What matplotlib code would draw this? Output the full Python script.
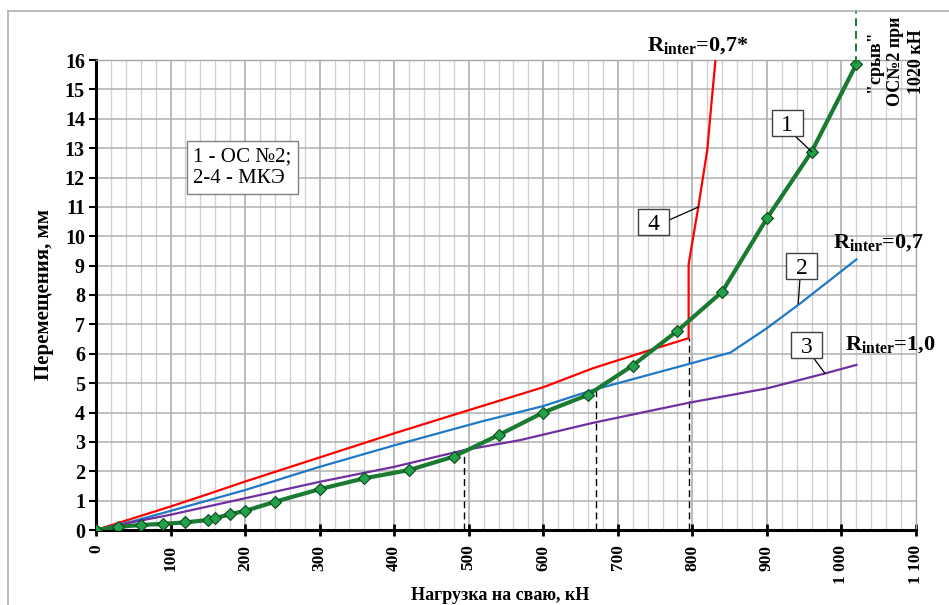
import matplotlib
matplotlib.use('Agg')
import matplotlib.pyplot as plt
import matplotlib.transforms as mtransforms
from matplotlib.patches import Rectangle
from matplotlib.lines import Line2D

# 1 - ОС №2 (опыт)
load_os = [0, 30, 60, 90, 120, 150, 160, 180, 200, 240, 300, 360, 420, 480,
           540, 600, 660, 720, 780, 840, 900, 960, 1020]
disp_os = [0, 0.11, 0.17, 0.21, 0.26, 0.34, 0.40, 0.54, 0.65, 0.96, 1.39, 1.76,
           2.04, 2.50, 3.23, 4.00, 4.60, 5.60, 6.78, 8.11, 10.61, 12.88, 15.86]
# 2 - МКЭ, Rinter=0,7
load_2 = [0, 50, 100, 200, 300, 400, 515, 600, 667, 795, 851, 900, 945, 1020]
disp_2 = [0, 0.30, 0.65, 1.36, 2.15, 2.88, 3.68, 4.22, 4.77, 5.65, 6.04, 6.87, 7.72, 9.21]
# 3 - МКЭ, Rinter=1,0
load_3 = [0, 50, 100, 200, 300, 400, 494, 569, 667, 795, 900, 978, 1020]
disp_3 = [0, 0.27, 0.52, 1.08, 1.64, 2.15, 2.72, 3.06, 3.65, 4.33, 4.82, 5.33, 5.62]
# 4 - МКЭ, Rinter=0,7*
load_4 = [0, 50, 100, 150, 200, 300, 400, 500, 600, 667, 744, 795, 795, 808, 820, 826, 831]
disp_4 = [0, 0.40, 0.80, 1.22, 1.65, 2.47, 3.29, 4.08, 4.86, 5.51, 6.13, 6.53, 9.05,
          11.0, 12.94, 14.64, 16.0]

# пунктирные вертикали
vline_x = [494, 671, 795]
vline_top = [2.72, 4.75, 6.53]

xticks = list(range(0, 1101, 100))
xtick_labels = ['0', '100', '200', '300', '400', '500', '600', '700', '800', '900', '1 000', '1 100']
yticks = list(range(0, 17))

serif = ['Liberation Serif', 'DejaVu Serif']
plt.rcParams['font.family'] = serif
plt.rcParams['mathtext.fontset'] = 'custom'
plt.rcParams['mathtext.rm'] = 'Liberation Serif'
plt.rcParams['mathtext.bf'] = 'Liberation Serif:bold'

fig = plt.figure(figsize=(9.49, 6.05), dpi=100)
ax = fig.add_axes([96 / 949, 1 - 530 / 605, (916 - 96) / 949, (530 - 60) / 605])

ax.set_xlim(0, 1100)
ax.set_ylim(0, 16)

# сетка
for xv in range(20, 1100, 20):
    if xv % 100 == 0:
        ax.axvline(xv, color='#a8a8a8', lw=1.1, zorder=0)
    else:
        ax.axvline(xv, color='#d2d2d2', lw=1.0, zorder=0)
for yv in range(1, 17):
    ax.axhline(yv, color='#b0b0b0', lw=1.1, zorder=0)

ax.plot(load_4, disp_4, color='#ff0000', lw=1.6, zorder=3)
ax.plot(load_2, disp_2, color='#1f78c8', lw=1.6, zorder=3)
ax.plot(load_3, disp_3, color='#7030a0', lw=1.6, zorder=3)
ax.plot(load_os, disp_os, color='#1a7a32', lw=3.0, marker='D', markersize=6,
        markerfacecolor='#22a04a', markeredgecolor='#0b4a1a', markeredgewidth=0.8, zorder=4)

for xv, yt in zip(vline_x, vline_top):
    ax.plot([xv, xv], [0, yt], color='black', lw=1.0, ls=(0, (5, 3)), zorder=2)

ax.plot([load_os[-1], load_os[-1]], [disp_os[-1], 17.7], color='#1a7a32', lw=1.4,
        ls=(0, (4, 2.5)), clip_on=False, zorder=4)

# оси
for s in ['left', 'bottom']:
    ax.spines[s].set_linewidth(2.2)
    ax.spines[s].set_color('black')
for s in ['top', 'right']:
    ax.spines[s].set_linewidth(1.0)
    ax.spines[s].set_color('#a8a8a8')

ax.set_xticks(xticks)
ax.set_xticklabels(xtick_labels, rotation=90, fontsize=12.5, fontweight='bold')
ax.set_yticks(yticks)
ax.set_yticklabels([str(v) for v in yticks], fontsize=14.5, fontweight='bold')
ax.tick_params(axis='x', direction='inout', length=9, width=2, pad=6)
ax.tick_params(axis='y', direction='out', length=5, width=1.5, pad=3)

ax.set_ylabel('Перемещения, мм', fontsize=15, fontweight='bold', labelpad=8)
fig.text(500 / 949, 1 - 596 / 605, 'Нагрузка на сваю, кН', fontsize=13,
         fontweight='bold', ha='center', va='center')

# подписи
ax.text(739, 16.28, r'$\mathbf{R}_{\mathbf{inter}}$=0,7*', fontsize=16, fontweight='bold',
        ha='left', va='baseline', clip_on=False)
ax.text(988, 9.57, r'$\mathbf{R}_{\mathbf{inter}}$=0,7', fontsize=16, fontweight='bold',
        ha='left', va='baseline')
ax.text(1005, 6.10, r'$\mathbf{R}_{\mathbf{inter}}$=1,0', fontsize=16, fontweight='bold',
        ha='left', va='baseline', clip_on=False)

ax.text(1072, 15.95, '"срыв"\nОС№2 при\n1020 кН', rotation=90, fontsize=13,
        fontweight='bold', ha='center', va='center', multialignment='center',
        linespacing=1.3, clip_on=False)

ax.text(130, 12.34, '1 - ОС №2;\n2-4 - МКЭ', fontsize=15, ha='left', va='center',
        linespacing=1.15, zorder=6,
        bbox=dict(boxstyle='square,pad=0.3', facecolor='white', edgecolor='#808080', lw=1))

# номера кривых
labels = ['1', '2', '3', '4']
box_xy = [(927, 13.87), (947, 8.99), (953.7, 6.31), (747.8, 10.50)]
lead_from = [(937, 13.43), (944.3, 8.53), (962.2, 5.87), (768.6, 10.55)]
lead_to = [(960, 12.88), (942, 7.72), (977.9, 5.33), (808.5, 11.0)]
for lab, (cx, cy), p0, p1 in zip(labels, box_xy, lead_from, lead_to):
    ax.plot([p0[0], p1[0]], [p0[1], p1[1]], color='black', lw=0.9, zorder=5)
    tr = fig.dpi_scale_trans + mtransforms.ScaledTranslation(cx, cy, ax.transData)
    ax.add_patch(Rectangle((-0.155, -0.13), 0.31, 0.26, transform=tr, facecolor='white',
                           edgecolor='#404040', lw=1.0, zorder=6))
    ax.text(cx, cy, lab, fontsize=17, ha='center', va='center_baseline', zorder=7)

# рамка
fig.add_artist(Line2D([8 / 949, 949 / 949], [1 - 11 / 605] * 2, color='#b0b0b0', lw=1.2))
fig.add_artist(Line2D([8 / 949, 8 / 949], [1 - 11 / 605, 0], color='#b0b0b0', lw=1.2))

fig.savefig('out.png', dpi=100)
